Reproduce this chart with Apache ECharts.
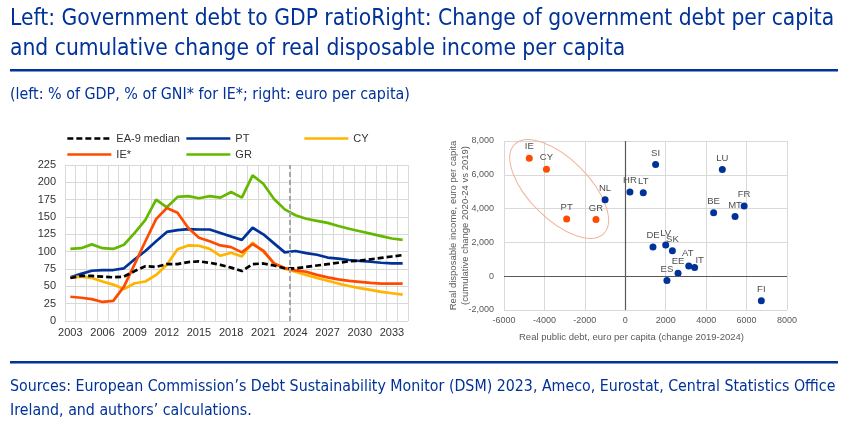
<!DOCTYPE html>
<html><head><meta charset="utf-8">
<script src="https://cdn.jsdelivr.net/npm/echarts@6/dist/echarts.min.js"></script>
<style>html,body{margin:0;padding:0;background:#fff;}#c{width:847px;height:422px;}</style>
</head><body><div id="c"></div>
<script>
// ---------- Left chart data: government debt ratio (% of GDP, % of GNI* for IE*) ----------
const years = ['2003','2004','2005','2006','2007','2008','2009','2010','2011','2012','2013','2014','2015','2016','2017','2018','2019','2020','2021','2022','2023','2024','2025','2026','2027','2028','2029','2030','2031','2032','2033','2034'];
const median = [62,65,65,64,63,64,72,79,78,82,82,85,86,84,81,77,72,82,83,80,76,76,78,80,82,84,86,87,89,91,93,95];
const PT = [63,68,72.5,73.5,73.5,76,89,101,115,128.5,131,132.5,132,132,127,122,117,134.5,125,112,99,101,98,95.5,91.5,90,88,86.5,85.5,84,83,83];
const IE = [35,33.5,31.5,27.5,29,49.5,82,115,147,163,156,134,120,115,109,106.5,99,111,101.5,83,76.5,73,71,66.5,63,60,58,56.5,55,54,54,54];
const CY = [63,64,62,57,52.5,46,54.5,57,66.5,81,103.5,109,108.5,104,94,98.5,93,113,100,83,75.5,71,66.5,62,58,54,50.5,47.5,45,42,40,38];
const GR = [104,105,110.5,105,104,110,127,146,175,164,179,180,177,180,178,186,178,210,198,176,161,152.5,147.5,144.5,141.5,137,133,129.5,126,122.5,119,117];
const projectionStart = '2024';

// ---------- Right chart data ----------
const countries = ['IE','CY','PT','GR','NL','HR','LT','SI','LU','BE','MT','FR','DE','LV','SK','AT','IT','EE','ES','FI'];
const debtChange = [-4750,-3900,-2900,-1450,-1000,230,890,1500,4800,4370,5430,5880,1370,2000,2330,3140,3430,2610,2060,6730];
const incomeChange = [6980,6330,3390,3350,4530,4980,4940,6610,6310,3750,3530,4160,1730,1850,1510,610,510,180,-250,-1450];
const highlighted = ['IE','CY','PT','GR'];

const BLUE = '#003299', ORANGE = '#ff4b00', YELLOW = '#ffb400', GREEN = '#65b800';
const HEAD = "'Liberation Sans Narrow','DejaVu Sans Condensed','Liberation Sans',sans-serif";
const BODY = "'Liberation Sans',Arial,sans-serif";

// label nudges (pixels) to avoid overlapping country codes
const labelNudge = {IT:[5,4], AT:[-1,-1]};

const chart = echarts.init(document.getElementById('c'), null, {renderer:'canvas'});

const orangePts = [], bluePts = [];
countries.forEach((c,i)=>{
  const d = {name:c, value:[debtChange[i], incomeChange[i]]};
  (highlighted.includes(c) ? orangePts : bluePts).push(d);
});

function lineSeries(name, data, color, dashed){
  return {name, type:'line', data, xAxisIndex:0, yAxisIndex:0, symbol:'none', showSymbol:false,
    lineStyle:{color, width:2.7, type: dashed ? [6,3] : 'solid'}, itemStyle:{color}};
}
const legendBase = {padding:0, itemWidth:44, itemHeight:12, itemGap:5,
  itemStyle:{opacity:0}, lineStyle:{width:2.7},
  textStyle:{fontSize:11, color:'#333', fontFamily:BODY}};

function nudgeLayout(pts){
  return function(params){
    const n = labelNudge[pts[params.dataIndex].name];
    return n ? {dx:n[0], dy:n[1], hideOverlap:false} : {hideOverlap:false};
  };
}

const option = {
  animation:false,
  backgroundColor:'#fff',
  title:[
    {text:'Left: Government debt to GDP ratioRight: Change of government debt per capita\nand cumulative change of real disposable income per capita',
     left:5, top:-1, textStyle:{fontFamily:HEAD, fontSize:22.6, fontWeight:'normal', color:BLUE, lineHeight:30}},
    {text:'(left: % of GDP, % of GNI* for IE*; right: euro per capita)', left:5, top:82,
     textStyle:{fontFamily:HEAD, fontSize:15.9, fontWeight:'normal', color:BLUE}},
    {text:'Sources: European Commission’s Debt Sustainability Monitor (DSM) 2023, Ameco, Eurostat, Central Statistics Office\nIreland, and authors’ calculations.',
     left:5, top:370, textStyle:{fontFamily:HEAD, fontSize:15.8, fontWeight:'normal', color:BLUE, lineHeight:24}}
  ],
  legend:[
    Object.assign({data:['EA-9 median'], left:66, top:133}, legendBase),
    Object.assign({data:['PT'], left:185, top:133}, legendBase),
    Object.assign({data:['CY'], left:303, top:133}, legendBase),
    Object.assign({data:['IE*'], left:66, top:149}, legendBase),
    Object.assign({data:['GR'], left:185, top:149}, legendBase)
  ],
  grid:[
    {left:65, right:439, top:165, bottom:101},
    {left:504, right:60, top:141, bottom:112}
  ],
  xAxis:[
    {type:'category', gridIndex:0, data:years, boundaryGap:true,
     axisLine:{show:false}, axisTick:{show:false},
     axisLabel:{interval:2, fontSize:11, color:'#333', fontFamily:BODY, margin:6},
     splitLine:{show:true, interval:0, lineStyle:{color:'#d9d9d9', width:1}}},
    {type:'value', gridIndex:0, min:0, max:years.length, show:false},
    {type:'value', gridIndex:1, min:-6000, max:8000, interval:2000,
     axisLine:{show:false}, axisTick:{show:false},
     axisLabel:{fontSize:9, color:'#595959', fontFamily:BODY, margin:6, formatter:v=>String(v)},
     splitLine:{show:true, lineStyle:{color:'#d9d9d9', width:1}},
     name:'Real public debt, euro per capita (change 2019-2024)', nameLocation:'middle', nameGap:22,
     nameTextStyle:{fontSize:9.5, color:'#595959', fontFamily:BODY, padding:[0,28,0,0]}}
  ],
  yAxis:[
    {type:'value', gridIndex:0, min:0, max:225, interval:25,
     axisLine:{show:false}, axisTick:{show:false},
     axisLabel:{fontSize:11, color:'#333', fontFamily:BODY, margin:9},
     splitLine:{show:true, lineStyle:{color:'#d9d9d9', width:1}}},
    {type:'value', gridIndex:1, min:-2000, max:8000, interval:2000,
     axisLine:{show:false}, axisTick:{show:false},
     axisLabel:{fontSize:9, color:'#595959', fontFamily:BODY, margin:10,
       formatter:v=>v.toLocaleString('en-US')},
     splitLine:{show:true, lineStyle:{color:'#d9d9d9', width:1}},
     name:'Real disposable income, euro per capita\n(cumulative change 2020-24 vs 2019)', nameLocation:'middle', nameGap:33, nameRotate:90,
     nameMoveOverlap:false,
     nameTextStyle:{fontSize:9.5, color:'#595959', fontFamily:BODY, lineHeight:12}}
  ],
  series:[
    {type:'line', xAxisIndex:1, yAxisIndex:0, data:[], silent:true,
     markLine:{silent:true, symbol:['none','none'], label:{show:false},
       lineStyle:{color:'#a6a6a6', width:2, type:[5,3]},
       data:[{xAxis: years.indexOf(projectionStart)}]}},
    lineSeries('GR', GR, GREEN),
    lineSeries('PT', PT, BLUE),
    lineSeries('CY', CY, YELLOW),
    lineSeries('IE*', IE, ORANGE),
    lineSeries('EA-9 median', median, '#000', true),
    {type:'scatter', xAxisIndex:2, yAxisIndex:1, data:bluePts, symbolSize:7, itemStyle:{color:BLUE, opacity:1},
     label:{show:true, position:'top', distance:3, formatter:'{b}', fontSize:9.5, color:'#4d4d4d', fontFamily:BODY},
     labelLayout:nudgeLayout(bluePts),
     markLine:{silent:true, symbol:['none','none'], label:{show:false},
       lineStyle:{color:'#595959', width:1.2, type:'solid'},
       data:[{xAxis:0},{yAxis:0}]}},
    {type:'scatter', xAxisIndex:2, yAxisIndex:1, data:orangePts, symbolSize:7, itemStyle:{color:ORANGE, opacity:1},
     label:{show:true, position:'top', distance:3, formatter:'{b}', fontSize:9.5, color:'#4d4d4d', fontFamily:BODY}}
  ]
};
chart.setOption(option);

// Annotation ellipse around the highlighted group (center in data units, size in pixels)
const ellipseCenter = [-3270, 5160];
const ec = chart.convertToPixel({gridIndex:1}, ellipseCenter);
chart.setOption({
  graphic:[
    {type:'rect', left:10, top:69, shape:{width:828, height:2.5}, style:{fill:BLUE}},
    {type:'rect', left:10, top:361, shape:{width:828, height:2.5}, style:{fill:BLUE}},
    {type:'ellipse', x:ec[0], y:ec[1], rotation:-Math.PI/4, shape:{cx:0, cy:0, rx:63, ry:30},
     style:{fill:'none', stroke:'#f3b49a', lineWidth:1}, z:1}
  ]
});
</script>
</body></html>
